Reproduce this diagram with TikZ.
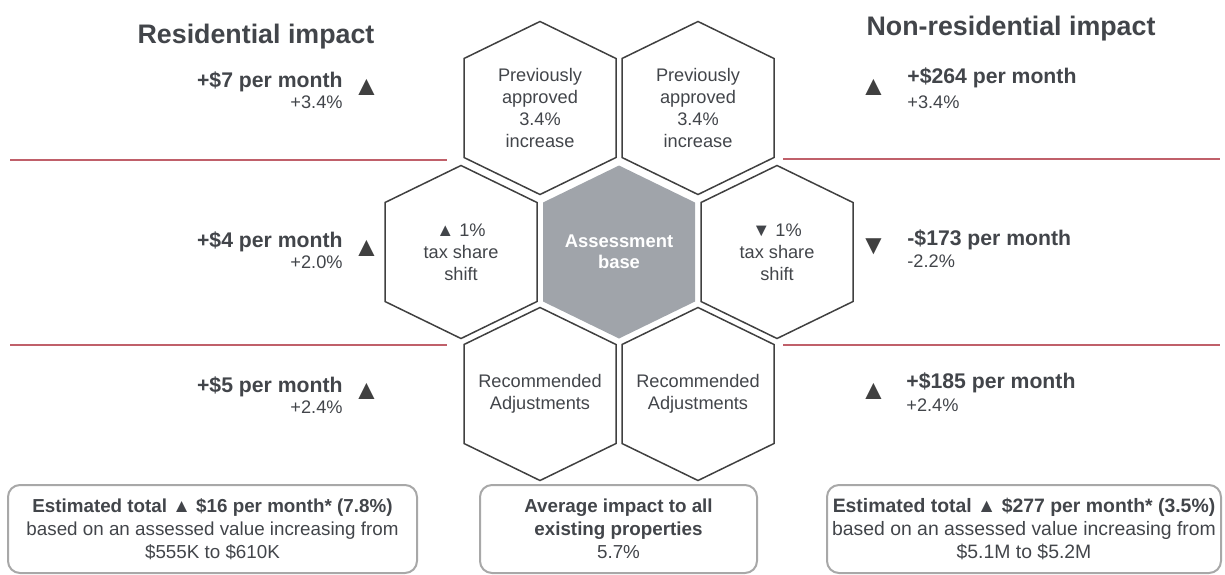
\documentclass[tikz,border=0pt]{standalone}
\usepackage{fontspec}
\setmainfont{Liberation Sans}
\usepackage{tikz}
\usetikzlibrary{
  shapes,
  positioning,
  backgrounds,
}
\definecolor{inkgrey}{RGB}{66,69,74}
\definecolor{edgegrey}{RGB}{64,64,64}
\definecolor{basegrey}{RGB}{160,164,170}
\definecolor{boxgrey}{RGB}{168,168,168}
\definecolor{rulered}{RGB}{192,96,106}
\tikzstyle{heading} = [
text=inkgrey,
font=\fontsize{13.4}{16}\selectfont\bfseries,
inner sep=0pt
]
\tikzstyle{amount} = [
text=inkgrey,
font=\fontsize{10.6}{12}\selectfont\bfseries,
inner sep=0pt
]
\tikzstyle{change} = [
text=inkgrey,
font=\fontsize{9.1}{11}\selectfont,
inner sep=0pt
]
\tikzstyle{marker} = [
text=edgegrey,
font=\fontsize{13.8}{14}\selectfont,
inner sep=0pt
]
\tikzstyle{cell} = [
text=inkgrey,
align=center,
font=\fontsize{9.1}{11}\selectfont,
inner sep=0pt
]
\tikzstyle{basecell} = [
text=white,
align=center,
font=\fontsize{9.2}{10.5}\selectfont\bfseries,
inner sep=0pt
]
\tikzstyle{total} = [
rectangle,
draw=boxgrey,
line width=1pt,
rounded corners=6pt,
minimum width=204.5pt,
minimum height=44pt,
text=inkgrey,
align=center,
font=\fontsize{9.4}{11.5}\selectfont,
inner sep=0pt
]
\tikzstyle{hexedge} = [draw=edgegrey, line width=0.75pt]
\tikzstyle{divider} = [draw=rulered, line width=0.6pt]

\begin{document}
\begin{tikzpicture}[x=0.5pt, y=-0.5pt]
  \useasboundingbox (0,0) rectangle (1225,574);

  % Place nodes
  \node [heading, anchor=base] (restitle) at (256,43) {Residential impact};
  \node [heading, anchor=base] (nontitle) at (1011,35) {Non-residential impact};

  \node [cell] (prevres) at (540,108) {Previously\\approved\\3.4\%\\increase};
  \node [cell] (prevnon) at (698,108) {Previously\\approved\\3.4\%\\increase};
  \node [cell] (shiftres) at (461,252) {▲ 1\%\\tax share\\shift};
  \node [basecell] (base) at (619,252) {Assessment\\base};
  \node [cell] (shiftnon) at (777,252) {▼ 1\%\\tax share\\shift};
  \node [cell] (adjres) at (540,394) {Recommended\\Adjustments};
  \node [cell] (adjnon) at (698,394) {Recommended\\Adjustments};

  \node [amount, anchor=base east] (resval1) at (343,87) {+\$7 per month};
  \node [change, anchor=base east] (respct1) at (343,108) {+3.4\%};
  \node [marker] (resmark1) at (366.5,87) {▲};
  \node [amount, anchor=base east] (resval2) at (343,247) {+\$4 per month};
  \node [change, anchor=base east] (respct2) at (343,268) {+2.0\%};
  \node [marker] (resmark2) at (366.5,248) {▲};
  \node [amount, anchor=base east] (resval3) at (343,392) {+\$5 per month};
  \node [change, anchor=base east] (respct3) at (343,413) {+2.4\%};
  \node [marker] (resmark3) at (366.5,391) {▲};

  \node [marker] (nonmark1) at (873.5,87) {▲};
  \node [amount, anchor=base west] (nonval1) at (907,83) {+\$264 per month};
  \node [change, anchor=base west] (nonpct1) at (907,108) {+3.4\%};
  \node [marker] (nonmark2) at (873.5,247) {▼};
  \node [amount, anchor=base west] (nonval2) at (907,245) {-\$173 per month};
  \node [change, anchor=base west] (nonpct2) at (907,267) {-2.2\%};
  \node [marker] (nonmark3) at (873.5,391) {▲};
  \node [amount, anchor=base west] (nonval3) at (906,388) {+\$185 per month};
  \node [change, anchor=base west] (nonpct3) at (906,411) {+2.4\%};

  \node [total] (restotal) at (212.5,529) {{\bfseries Estimated total ▲ \$16 per month* (7.8\%)}\\based on an assessed value increasing from\\\$555K to \$610K};
  \node [total, minimum width=138.5pt] (avgtotal) at (618.5,529) {{\bfseries Average impact to all}\\{\bfseries existing properties}\\5.7\%};
  \node [total, minimum width=197pt, font=\fontsize{9.7}{11.5}\selectfont] (nontotal) at (1024,529) {{\bfseries Estimated total ▲ \$277 per month* (3.5\%)}\\based on an assessed value increasing from\\\$5.1M to \$5.2M};

  % Draw hexagons
  \begin{scope}[on background layer]
    \fill [basegrey] (base.center) +(0,-86.5) -- +(76,-49.5) -- +(76,49.5) -- +(0,86.5) -- +(-76,49.5) -- +(-76,-49.5) -- cycle;
    \foreach \h in {prevres,prevnon,shiftres,shiftnon,adjres,adjnon}
      \draw [hexedge] (\h.center) +(0,-86.5) -- +(76,-49.5) -- +(76,49.5) -- +(0,86.5) -- +(-76,49.5) -- +(-76,-49.5) -- cycle;
  \end{scope}

  % Draw dividers
  \draw [divider] (10,160) -- (447,160);
  \draw [divider] (10,345) -- (447,345);
  \draw [divider] (783,159) -- (1220,159);
  \draw [divider] (783,345) -- (1220,345);

\end{tikzpicture}
\end{document}
